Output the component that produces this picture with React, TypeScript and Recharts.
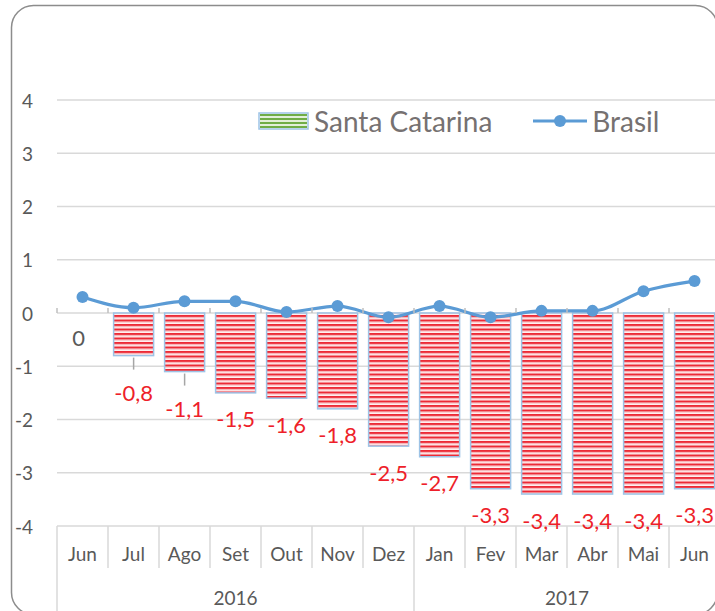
import { ComposedChart, Bar, Line, XAxis, YAxis, CartesianGrid, Legend } from "recharts"

const months = ["Jun", "Jul", "Ago", "Set", "Out", "Nov", "Dez", "Jan", "Fev", "Mar", "Abr", "Mai", "Jun"]
const years = ["2016", "2016", "2016", "2016", "2016", "2016", "2016", "2017", "2017", "2017", "2017", "2017", "2017"]
const santaCatarina = [0, -0.8, -1.1, -1.5, -1.6, -1.8, -2.5, -2.7, -3.3, -3.4, -3.4, -3.4, -3.3]
const brasil = [0.3, 0.1, 0.22, 0.22, 0.02, 0.13, -0.08, 0.13, -0.08, 0.04, 0.04, 0.41, 0.6]
const yTicks = [-4, -3, -2, -1, 0, 1, 2, 3, 4]

const FONT = "Lato, 'Open Sans', sans-serif"
const TEXT_GRAY = "#595959"
const GRID = "#d9d9d9"
const LABEL_RED = "#ee1f2a"
const BLUE = "#5b9bd5"
const BAR_EDGE = "#9dc3e6"

// layout of the plot area (matches the reference framing)
const PAGE_W = 715
const PAGE_H = 611
const CHART_W = 760
const CHART_H = 611
const PLOT_LEFT = 57
const PLOT_RIGHT = 720
const PLOT_TOP = 100
const X_AXIS_H = 85
const PLOT_BOTTOM = CHART_H - X_AXIS_H
const STEP = (PLOT_RIGHT - PLOT_LEFT) / months.length
const Y_ZERO = PLOT_TOP + ((PLOT_BOTTOM - PLOT_TOP) * 4) / 8

const data = months.map((m, i) => ({
  month: m,
  year: years[i],
  sc: santaCatarina[i],
  br: brasil[i],
}))

const YTick = (props: any) => {
  const { y, payload } = props
  return (
    <text x={33} y={y} textAnchor="end" dominantBaseline="central" fill={TEXT_GRAY} fontSize={19} fontFamily={FONT}>
      {payload.value}
    </text>
  )
}

const MonthTick = (props: any) => {
  const { x, index, payload } = props
  const left = x - STEP / 2
  const right = x + STEP / 2
  const groupStart = index === 0 || years[index] !== years[index - 1]
  const isLast = index === months.length - 1
  const count = years.filter((y) => y === years[index]).length
  return (
    <g>
      <line x1={left} x2={left} y1={PLOT_BOTTOM} y2={groupStart ? CHART_H + 10 : 568} stroke={GRID} strokeWidth={1.5} />
      <line x1={left} x2={left} y1={Y_ZERO - 5} y2={Y_ZERO} stroke="#bfbfbf" strokeWidth={1.5} />
      {isLast && (
        <>
          <line x1={right} x2={right} y1={PLOT_BOTTOM} y2={CHART_H + 10} stroke={GRID} strokeWidth={1.5} />
          <line x1={right} x2={right} y1={Y_ZERO - 5} y2={Y_ZERO} stroke="#bfbfbf" strokeWidth={1.5} />
        </>
      )}
      <text x={x} y={553} textAnchor="middle" dominantBaseline="central" fill={TEXT_GRAY} fontSize={19} fontFamily={FONT}>
        {payload.value}
      </text>
      {groupStart && (
        <text x={left + (count * STEP) / 2} y={597} textAnchor="middle" dominantBaseline="central" fill={TEXT_GRAY} fontSize={19} fontFamily={FONT}>
          {years[index]}
        </text>
      )}
    </g>
  )
}

// bar with its data label drawn underneath (Excel "outside end" style)
const StripedBar = (props: any) => {
  const { x, y, width, height, index, payload } = props
  const top = Math.min(y, y + height)
  const h = Math.abs(height)
  const bottom = top + h
  const cx = x + width / 2
  const value: number = payload.sc
  const leader = index === 1 || index === 2
  const ly = bottom + (leader ? 37 : 26)
  return (
    <g>
      {h > 0 && <rect x={x} y={top} width={width} height={h} fill="url(#redStripes)" stroke={BAR_EDGE} strokeWidth={1.5} />}
      {leader && <line x1={cx} x2={cx} y1={bottom + 2} y2={bottom + 14} stroke="#a6a6a6" strokeWidth={1.5} />}
      <text
        x={value === 0 ? cx - 4 : cx}
        y={value === 0 ? ly - 2 : ly}
        textAnchor="middle"
        dominantBaseline="central"
        fill={value === 0 ? TEXT_GRAY : LABEL_RED}
        fontSize={22}
        fontFamily={FONT}
      >
        {String(value).replace(".", ",")}
      </text>
    </g>
  )
}

const renderLegend = () => (
  <div style={{ display: "flex", alignItems: "center", fontFamily: FONT, fontSize: 28, color: "#767171", whiteSpace: "nowrap" }}>
    <svg width={51} height={18}>
      <rect x={1} y={1} width={49} height={16} fill="#ffffff" stroke={BAR_EDGE} strokeWidth={1.5} />
      {[3, 7, 11, 15].map((yy) => (
        <rect key={yy} x={2} y={yy - 1} width={47} height={2} fill="#70ad47" />
      ))}
      {[5, 9, 13].map((yy) => (
        <rect key={yy} x={2} y={yy - 1} width={47} height={2} fill="#e2efd9" />
      ))}
    </svg>
    <span style={{ marginLeft: 5 }}>Santa Catarina</span>
    <svg width={54} height={14} style={{ marginLeft: 41 }}>
      <line x1={0} x2={54} y1={7} y2={7} stroke={BLUE} strokeWidth={3} />
      <circle cx={27} cy={7} r={6} fill={BLUE} />
    </svg>
    <span style={{ marginLeft: 5 }}>Brasil</span>
  </div>
)

export default function App() {
  return (
    <div style={{ position: "relative", width: PAGE_W, height: PAGE_H, overflow: "hidden", background: "#fff" }}>
      <style>{"html, body { margin: 0; padding: 0; overflow: hidden; }"}</style>
      <div style={{ position: "absolute", left: 0, top: 0 }}>
        <ComposedChart
          width={CHART_W}
          height={CHART_H}
          data={data}
          margin={{ top: PLOT_TOP, right: CHART_W - PLOT_RIGHT, bottom: 0, left: 0 }}
          barCategoryGap="11%"
        >
          <defs>
            <pattern id="redStripes" patternUnits="userSpaceOnUse" width={8} height={4.5}>
              <rect x={0} y={0} width={8} height={4.5} fill="#fff0f0" />
              <rect x={0} y={0} width={8} height={2} fill="#ec2a36" />
              <rect x={0} y={2} width={8} height={1} fill="#f6a3a8" />
            </pattern>
          </defs>
          <CartesianGrid vertical={false} stroke={GRID} strokeWidth={1.5} />
          <XAxis dataKey="month" interval={0} axisLine={false} tickLine={false} height={X_AXIS_H} tick={<MonthTick />} />
          <YAxis domain={[-4, 4]} ticks={yTicks} width={PLOT_LEFT} axisLine={false} tickLine={false} tick={<YTick />} />
          <Legend
            layout="horizontal"
            verticalAlign="middle"
            align="center"
            content={renderLegend}
            wrapperStyle={{ position: "absolute", left: 258, top: 104, width: "auto", height: "auto" }}
          />
          <Bar dataKey="sc" name="Santa Catarina" shape={<StripedBar />} isAnimationActive={false} />
          <Line
            type="monotone"
            dataKey="br"
            name="Brasil"
            stroke={BLUE}
            strokeWidth={3.2}
            dot={{ r: 6, fill: BLUE, stroke: BLUE, strokeWidth: 0 }}
            isAnimationActive={false}
          />
        </ComposedChart>
      </div>
      <svg width={PAGE_W} height={PAGE_H} style={{ position: "absolute", left: 0, top: 0, pointerEvents: "none" }}>
        <rect x={11.5} y={5.5} width={706} height={609} rx={22} ry={22} fill="none" stroke="#8c8c8c" strokeWidth={1.5} />
      </svg>
    </div>
  )
}
